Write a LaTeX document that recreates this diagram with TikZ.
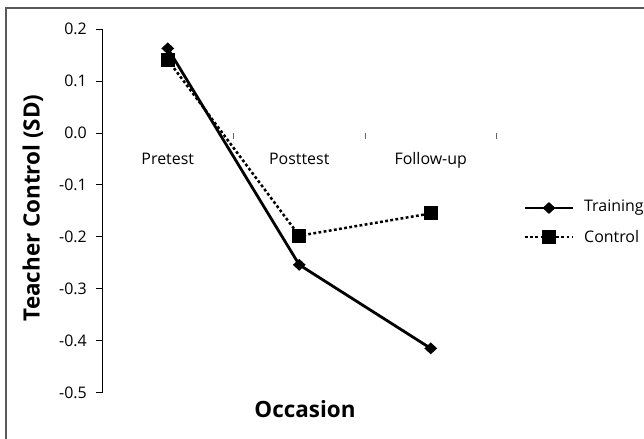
\documentclass[tikz,border=0pt]{standalone}
\usepackage{fontspec}
\setmainfont{Open Sans}
\usetikzlibrary{positioning,shapes.geometric}

\tikzset{
  ticklab/.style={font=\fontsize{16}{18}\selectfont, inner sep=0pt},
  axlab/.style={font=\fontsize{22.5}{26}\selectfont\bfseries, inner sep=0pt},
  trainline/.style={line width=2.8bp},
  ctrlline/.style={line width=2.5bp, dash pattern=on 2.8bp off 2.4bp},
  diam/.style={diamond, aspect=1.1, fill=black, inner sep=0pt, minimum width=13bp, minimum height=12bp},
  sqr/.style={rectangle, fill=black, inner sep=0pt, minimum size=14bp},
}

\begin{document}
\begin{tikzpicture}[x=1bp,y=-1bp]
  \useasboundingbox (0,0) rectangle (644,439);
  % frame of the chart area (right and bottom edges are cut off)
  \draw[black!65, line width=1.2bp] (6,439) -- (6,8) -- (644,8);

  \begin{scope}[shift={(102,133)}, x=131.5bp, y=519bp]
    % y axis
    \draw[line width=0.9bp] (0,0.2) -- (0,-0.5);
    \foreach \v/\lab [count=\i] in {0.2/0.2, 0.1/0.1, 0/0.0, -0.1/-0.1, -0.2/-0.2, -0.3/-0.3, -0.4/-0.4, -0.5/-0.5} {
      \draw[line width=0.9bp] (0,\v) -- ++(-6bp,0bp);
      \node[ticklab, anchor=east] (ytick\i) at ([xshift=-15bp]0,\v) {\lab};
    }
    % category ticks and names
    \foreach \i in {1,2,3} {
      \draw[black!60, line width=0.9bp] (\i,0) -- ++(0bp,-6bp);
    }
    \foreach \lab [count=\i] in {Pretest,Posttest,Follow-up} {
      \node[ticklab, anchor=base] (cat\i) at (\i-0.5,-0.06) {\lab};
    }

    % Training group
    \node[diam] (tr1) at (0.5,0.163) {};
    \node[diam] (tr2) at (1.5,-0.254) {};
    \node[diam] (tr3) at (2.5,-0.415) {};
    \draw[trainline] (tr1.center) -- (tr2.center) -- (tr3.center);

    % Control group
    \node[sqr] (co1) at (0.5,0.141) {};
    \node[sqr] (co2) at (1.5,-0.198) {};
    \node[sqr] (co3) at (2.5,-0.155) {};
    \draw[ctrlline] (co1.center) -- (co2.center) -- (co3.center);
  \end{scope}

  % axis titles
  \node[axlab, rotate=90] (ylab) at (33,208) {Teacher Control (SD)};
  \node[axlab] (xlab) at (305,409) {Occasion};

  % legend
  \coordinate (tra) at (525,208);
  \coordinate (trb) at (573,208);
  \draw[trainline] (tra) -- (trb);
  \node[diam] (trm) at (549,208) {};
  \node[ticklab, right=11bp of trb] (trtxt) {Training};

  \coordinate (coa) at (525,237);
  \coordinate (cob) at (573,237);
  \draw[ctrlline] (coa) -- (cob);
  \node[sqr] (com) at (549,237) {};
  \node[ticklab, right=11bp of cob] (cotxt) {Control};
\end{tikzpicture}
\end{document}
